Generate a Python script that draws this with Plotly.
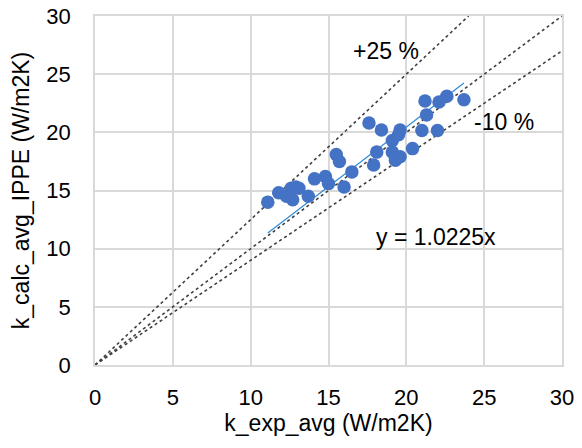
import plotly.graph_objects as go

k_exp_avg = [11.1, 11.8, 12.3, 12.7, 12.6, 13.1, 13.7, 14.1, 14.8, 15.0,
             15.5, 15.7, 16.0, 16.5, 17.6, 18.4, 18.1, 17.9, 19.1, 19.1,
             19.3, 19.6, 19.6, 19.5, 20.4, 21.0, 22.0, 21.3, 21.2, 22.1,
             22.6, 23.7, 12.9]
k_calc_avg = [14.0, 14.8, 14.5, 14.2, 15.2, 15.2, 14.5, 16.0, 16.2, 15.6,
              18.1, 17.5, 15.3, 16.6, 20.8, 20.2, 18.3, 17.2, 19.3, 18.3,
              17.6, 17.9, 20.2, 19.8, 18.6, 20.15, 20.15, 21.5, 22.7, 22.6,
              23.1, 22.8, 15.3]

slope = 1.0225
ref_factors = [1.25, 1.0, 0.9]
ref_x_end = [24.0, 30.0, 30.0]
tick_vals = [0, 5, 10, 15, 20, 25, 30]

font_family = "Liberation Sans, Arial, sans-serif"

fig = go.Figure()

for f, xe in zip(ref_factors, ref_x_end):
    fig.add_trace(go.Scatter(
        x=[0, xe], y=[0, f * xe], mode="lines",
        line=dict(color="#404040", width=1.6, dash="dot"),
        showlegend=False, hoverinfo="skip", cliponaxis=False))

xmin, xmax = min(k_exp_avg), max(k_exp_avg)
fig.add_trace(go.Scatter(
    x=[xmin, xmax], y=[slope * xmin, slope * xmax], mode="lines",
    line=dict(color="#2E8BD8", width=1.2), showlegend=False))

fig.add_trace(go.Scatter(
    x=k_exp_avg, y=k_calc_avg, mode="markers",
    marker=dict(color="#4472C4", size=13.5, line=dict(width=0)),
    showlegend=False))

fig.add_annotation(x=18.7, y=27.0, text="+25 %", showarrow=False,
                   font=dict(size=23, color="#000000", family=font_family))
fig.add_annotation(x=26.3, y=20.9, text="-10 %", showarrow=False,
                   font=dict(size=23, color="#000000", family=font_family))
fig.add_annotation(x=21.9, y=11.0, text="y = 1.0225x", showarrow=False,
                   font=dict(size=23, color="#000000", family=font_family))

axis_common = dict(
    range=[0, 30], tickvals=tick_vals, showgrid=True,
    gridcolor="#D9D9D9", gridwidth=1.5, zeroline=False,
    showline=True, linecolor="#D9D9D9", linewidth=1.5, mirror=True,
    tickfont=dict(size=22, color="#000000", family=font_family),
    ticks="", automargin=False, ticklabeloverflow="allow",
)

fig.update_layout(
    width=582, height=448,
    margin=dict(l=95, r=20, t=16, b=83),
    plot_bgcolor="white", paper_bgcolor="white",
    xaxis=dict(**axis_common, ticklabelstandoff=12,
               title=dict(text="k_exp_avg (W/m2K)", standoff=6,
                          font=dict(size=23, color="#000000", family=font_family))),
    yaxis=dict(**axis_common, ticklabelstandoff=18,
               title=dict(text="k_calc_avg_IPPE (W/m2K)", standoff=10,
                          font=dict(size=23, color="#000000", family=font_family))),
)

fig.write_html("out.html",
               config={"displayModeBar": False},
               post_script="document.body.style.margin='0';"
                           "document.body.style.overflow='hidden';")
